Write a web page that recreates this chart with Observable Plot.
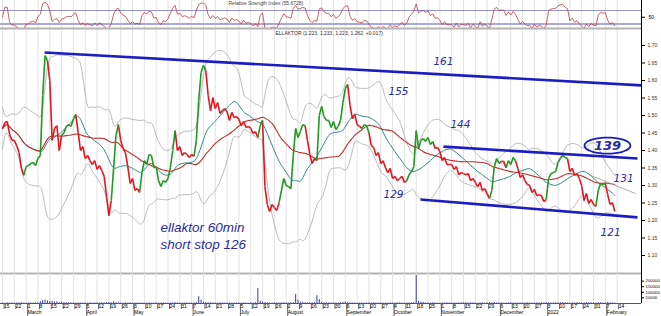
<!DOCTYPE html>
<html><head><meta charset="utf-8">
<script src="https://cdn.jsdelivr.net/npm/d3@7"></script>
<script src="https://cdn.jsdelivr.net/npm/@observablehq/plot@0.6"></script>
<style>
body{margin:0;background:#fff;overflow:hidden}
#c svg{display:block}
</style>
</head><body><div id="c"></div>
<script>
// ---- DATA ----
// daily closes (trading-day index 0 = Mon 15 Feb 2021)
const closes = [
1.463,1.480,1.483,1.446,1.429,1.429,1.414,1.394,1.349,1.329,
1.354,1.357,1.363,1.366,1.357,1.377,1.386,1.557,1.671,1.657,
1.600,1.429,1.463,1.471,1.400,1.443,1.451,1.469,1.474,1.469,
1.491,1.503,1.451,1.400,1.411,1.377,1.386,1.371,1.360,1.371,
1.346,1.357,1.343,1.326,1.269,1.214,1.257,1.349,1.443,1.474,
1.429,1.406,1.394,1.354,1.306,1.320,1.286,1.291,1.280,1.337,
1.371,1.360,1.389,1.386,1.351,1.354,1.314,1.297,1.314,1.309,
1.320,1.351,1.400,1.457,1.400,1.411,1.386,1.394,1.389,1.380,
1.389,1.383,1.429,1.543,1.623,1.643,1.629,1.557,1.514,1.551,
1.520,1.537,1.506,1.514,1.520,1.511,1.486,1.509,1.494,1.497,
1.489,1.471,1.483,1.466,1.469,1.463,1.449,1.454,1.437,1.471,
1.486,1.297,1.246,1.226,1.246,1.237,1.229,1.251,1.286,1.320,
1.300,1.297,1.291,1.386,1.463,1.437,1.454,1.474,1.471,1.429,
1.389,1.363,1.377,1.371,1.500,1.526,1.497,1.486,1.486,1.466,
1.483,1.460,1.469,1.486,1.537,1.577,1.589,1.529,1.491,1.503,
1.474,1.469,1.463,1.474,1.471,1.451,1.414,1.409,1.386,1.394,
1.363,1.371,1.351,1.337,1.349,1.320,1.326,1.314,1.320,1.326,
1.309,1.314,1.331,1.340,1.354,1.457,1.406,1.429,1.434,1.426,
1.437,1.417,1.426,1.406,1.409,1.397,1.371,1.380,1.360,1.360,
1.360,1.346,1.354,1.331,1.337,1.334,1.331,1.334,1.314,1.320,
1.309,1.297,1.309,1.286,1.291,1.277,1.263,1.286,1.351,1.377,
1.363,1.369,1.369,1.351,1.371,1.360,1.380,1.371,1.349,1.323,
1.331,1.314,1.303,1.300,1.280,1.289,1.271,1.274,1.271,1.254,
1.260,1.320,1.334,1.337,1.340,1.366,1.377,1.386,1.380,1.377,
1.340,1.349,1.329,1.334,1.320,1.300,1.257,1.277,1.249,1.260,
1.246,1.240,1.286,1.306,1.303,1.306,1.274,1.246,1.251,1.226
];
// trend colouring runs: [state, number of sessions]
const trendRuns = [["r",10],["g",10],["r",6],["g",6],["r",15],["g",3],["r",9],["g",15],["r",8],["g",5],
["r",22],["g",2],["r",7],["g",11],["r",5],["g",13],["r",6],["g",3],["r",16],["g",11],["r",24],["g",4],
["r",3],["g",4],["r",13],["g",9],["r",12],["g",4],["r",4]];
// volume (thousands)
const volumeK = [
4,3,5,4,6,3,4,5,6,4, 3,4,5,4,6,5,15,25,30,22, 18,20,12,15,10,12,8,6,7,5, 4,5,6,4,3,5,4,6,3,4,
5,4,6,5,7,9,6,15,8,5, 4,3,5,4,6,3,5,4,3,4, 3,4,5,3,4,5,3,4,6,4, 3,5,4,8,5,4,3,4,5,3,
4,5,8,60,30,12,8,6,5,4, 4,3,5,4,3,4,5,3,4,5, 4,3,5,4,3,6,5,8,135,20, 10,8,6,5,4,6,5,4,5,6,
5,4,6,8,80,30,12,8,6,5, 6,5,8,70,35,12,8,6,5,4, 5,6,4,8,10,12,9,6,5,4, 3,4,5,4,3,5,4,6,3,4,
5,4,3,4,5,3,4,5,6,4, 3,4,5,6,8,250,20,12,8,6, 5,4,6,5,4,3,5,4,6,5, 4,5,3,4,6,5,8,4,5,6,
4,3,5,6,4,5,8,6,9,5, 4,5,3,4,6,5,4,3,5,4, 3,4,6,5,4,3,5,4,6,5, 8,6,5,4,6,5,7,9,6,5,
4,6,5,8,6,5,4,9,7,6, 5,4,8,6,5,4,10,6,5,4
];
// weekly tick labels (Mondays) and month labels
const weekDays = [15,22,1,8,15,22,29,5,12,19,26,3,10,17,24,31,7,14,21,28,5,12,19,26,2,9,16,23,30,6,13,20,27,4,11,18,25,1,8,15,22,29,6,13,20,27,3,10,17,24,31,7,14];
const monthNames = ["March","April","May","June","July","August","September","October","November","December","2022","February"];
const monthStartWeek = [2,7,11,16,20,24,29,33,37,42,46,51];
const priceTicks = [1.10,1.15,1.20,1.25,1.30,1.35,1.40,1.45,1.50,1.55,1.60,1.65,1.70];
const volumeTicks = [50000,100000,150000,200000];
// hand-drawn trend lines (session index, price)
const trendLines = [
  {x1:17.8, y1:1.680, x2:270.3, y2:1.586},
  {x1:186.5, y1:1.411, x2:268.6, y2:1.377},
  {x1:176.8, y1:1.260, x2:268.6, y2:1.209}
];
const thinLine = [{x1:248.7, y1:1.329, x2:267.8, y2:1.277}];
const levelNotes = [
  {x:186.5, y:1.654, t:"161"}, {x:167.5, y:1.569, t:"155"}, {x:193.7, y:1.474, t:"144"},
  {x:262.7, y:1.320, t:"131"}, {x:165.4, y:1.274, t:"129"}, {x:257.2, y:1.166, t:"121"}
];
const circled = {x:255.9, y:1.414, t:"139", rx:9.7, ry:0.023};
const handNotes = [{x:66.8, y:1.166, t:"ellaktor 60min"}, {x:66.8, y:1.120, t:"short stop 126"}];
const mainTitle = "ELLAKTOR (1.223, 1.233, 1.223, 1.262, +0.017)";
const rsiTitle = "Relative Strength Index (55.6728)";

// ---- DERIVED ----
const trend = trendRuns.flatMap(([s, n]) => Array(n).fill(s));
const n = closes.length;
const idx = d3.range(n);
const xDomain = [-0.85, 270.3];
const weekIdx = weekDays.map((_, k) => k * 5);
const dayMap = new Map(weekIdx.map((v, k) => [v, String(weekDays[k])]));
const monthIdx = monthStartWeek.map(w => w * 5);
const monthMap = new Map(monthIdx.map((v, k) => [v, monthNames[k]]));

const win = (k, f) => idx.map(i => f(closes.slice(Math.max(0, i - k + 1), i + 1)));
const kBB = 16;
const mid = win(kBB, d3.mean);
const dev = win(kBB, a => a.length > 1 ? d3.deviation(a) : 0.03);
const slow = win(32, d3.mean);
const series = idx.map(i => ({i, c: closes[i], mid: mid[i], up: mid[i] + 2 * dev[i], lo: mid[i] - 2 * dev[i], slow: slow[i], v: volumeK[i] * 1000}));
const segs = d3.range(1, n).map(i => ({x1: i - 1, y1: closes[i - 1], x2: i, y2: closes[i], t: trend[i]}));

function rsiSeries(v, p) {
  const out = [50]; let ag = 0, al = 0;
  for (let i = 1; i < v.length; i++) {
    const ch = v[i] - v[i - 1], g = Math.max(ch, 0), l = Math.max(-ch, 0);
    if (i <= p) { ag += g / p; al += l / p; } else { ag = (ag * (p - 1) + g) / p; al = (al * (p - 1) + l) / p; }
    out.push(al === 0 ? 80 : 100 - 100 / (1 + ag / al));
  }
  return out;
}
const rsi = rsiSeries(closes, 5).map((r, i) => ({i, r}));
const ell = d3.range(0, 361, 10).map(a => ({x: circled.x + circled.rx * Math.cos(a * Math.PI / 180), y: circled.y + circled.ry * Math.sin(a * Math.PI / 180)}));

const RED = "#e8141c", GREEN = "#1f9a1f", BLUE = "#1c1cc4", NOTE = "#2a2aa8", GRID = "#e2e2e2";
const base = {width: 661, marginLeft: 0, marginRight: 20, marginTop: 0, style: {fontFamily: "Liberation Sans", background: "#fff", overflow: "visible"}};

// ---- RSI PANEL ----
const rsiPlot = Plot.plot({
  ...base, height: 28, marginBottom: 0,
  x: {domain: xDomain, axis: null},
  y: {domain: [16.7, 99.6], clamp: true},
  marks: [
    Plot.ruleX(weekIdx, {stroke: GRID}),
    Plot.ruleY([70], {stroke: "#7a7ac8", strokeWidth: 0.8}),
    Plot.ruleY([30], {stroke: "#a8a8e0", strokeWidth: 2.2}),
    Plot.line(rsi, {x: "i", y: "r", stroke: "#c23a3a", strokeWidth: 0.8}),
    Plot.ruleX([xDomain[1]], {stroke: "#000"}),
    Plot.axisY([50], {anchor: "right", tickSize: 3, tickPadding: 4, fontSize: 5, label: null}),
    Plot.text([rsiTitle], {frameAnchor: "top-left", dx: 228, dy: 1, fontSize: 5, fill: "#444"})
  ]
});

// ---- MAIN PANEL ----
const yDom = [1.0486, 1.7486];
const mainPlot = Plot.plot({
  ...base, height: 245, marginBottom: 0,
  x: {domain: xDomain, axis: null},
  y: {domain: yDom},
  marks: [
    Plot.ruleX(weekIdx, {stroke: GRID}),
    Plot.ruleY([yDom[1]], {stroke: "#b4b4b4", strokeWidth: 2}),
    Plot.ruleY([yDom[0]], {stroke: "#b4b4b4", strokeWidth: 2}),
    Plot.line(series, {x: "i", y: "up", stroke: "#a9a9a9", strokeWidth: 0.8, curve: "basis"}),
    Plot.line(series, {x: "i", y: "lo", stroke: "#a9a9a9", strokeWidth: 0.8, curve: "basis"}),
    Plot.line(series, {x: "i", y: "mid", stroke: "#2f8c8a", strokeWidth: 1, curve: "basis"}),
    Plot.line(series, {x: "i", y: "slow", stroke: "#c0302c", strokeWidth: 1.1, curve: "basis"}),
    Plot.link(thinLine, {x1: "x1", y1: "y1", x2: "x2", y2: "y2", stroke: "#999", strokeWidth: 0.8}),
    Plot.link(segs.filter(d => d.t === "r"), {x1: "x1", y1: "y1", x2: "x2", y2: "y2", stroke: RED, strokeWidth: 1.6}),
    Plot.link(segs.filter(d => d.t === "g"), {x1: "x1", y1: "y1", x2: "x2", y2: "y2", stroke: GREEN, strokeWidth: 1.6}),
    Plot.link(trendLines, {x1: "x1", y1: "y1", x2: "x2", y2: "y2", stroke: BLUE, strokeWidth: 2.6}),
    Plot.text(levelNotes, {x: "x", y: "y", text: "t", fill: NOTE, fontSize: 10.5, fontStyle: "italic", fontFamily: "DejaVu Sans"}),
    Plot.line(ell, {x: "x", y: "y", stroke: BLUE, strokeWidth: 1.8, curve: "catmull-rom"}),
    Plot.text([circled], {x: "x", y: "y", text: "t", fill: NOTE, fontSize: 13, fontStyle: "italic", fontWeight: "bold", fontFamily: "DejaVu Sans"}),
    Plot.text(handNotes, {x: "x", y: "y", text: "t", fill: NOTE, fontSize: 13.5, fontStyle: "italic", textAnchor: "start", lineAnchor: "bottom", fontFamily: "Liberation Sans"}),
    Plot.ruleX([xDomain[1]], {stroke: "#000"}),
    Plot.axisY(priceTicks, {anchor: "right", tickSize: 3, tickPadding: 3, fontSize: 5, tickFormat: d3.format(".2f"), label: null, fill: "#333"}),
    Plot.text([mainTitle], {frameAnchor: "top-left", dx: 275, dy: 3, fontSize: 5, fill: "#333"})
  ]
});

// ---- VOLUME + TIME AXIS ----
const volPlot = Plot.plot({
  ...base, height: 43, marginBottom: 13,
  x: {domain: xDomain},
  y: {domain: [0, 267870]},
  marks: [
    Plot.ruleX(weekIdx, {stroke: GRID}),
    Plot.ruleX(series, {x: "i", y1: 0, y2: "v", stroke: "#2424a6", strokeWidth: 0.9}),
    Plot.ruleY([0], {stroke: "#555"}),
    Plot.ruleX([xDomain[1]], {stroke: "#000"}),
    Plot.axisY(volumeTicks, {anchor: "right", tickSize: 2, tickPadding: 2, fontSize: 4.3, label: null, tickFormat: d => String(d)}),
    Plot.axisX(weekIdx, {anchor: "bottom", tickSize: 6, tickPadding: -5.5, textAnchor: "start", dx: 1.5, fontSize: 5, tickFormat: d => dayMap.get(d), label: null, stroke: "#666"}),
    Plot.axisX(monthIdx, {anchor: "bottom", tickSize: 13, tickPadding: -6, textAnchor: "start", dx: 1.5, fontSize: 5, tickFormat: d => monthMap.get(d), label: null, stroke: "#666"})
  ]
});

const c = document.getElementById("c");
c.append(rsiPlot, mainPlot, volPlot);
</script>
</body></html>
